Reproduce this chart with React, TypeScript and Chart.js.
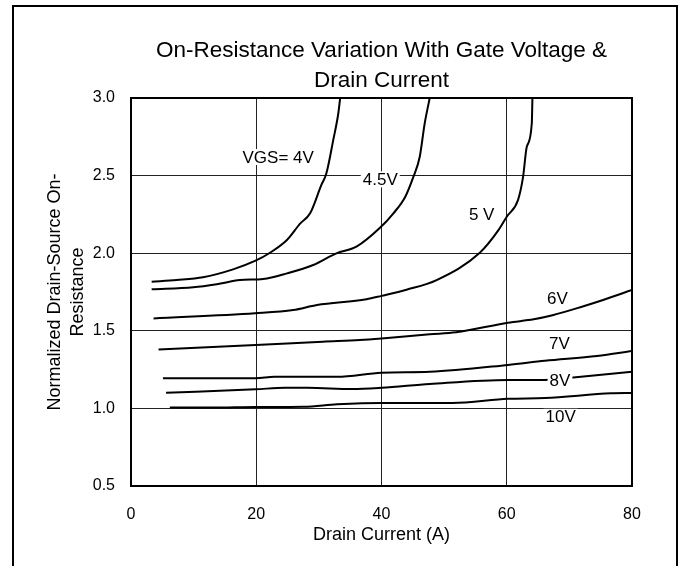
import React, { useEffect, useRef } from "react";
import { Chart, registerables } from "chart.js";

Chart.register(...registerables);

const FONT = "'Liberation Sans', Arial, Helvetica, sans-serif";

// Drain current (A) / normalized on-resistance, one pair of arrays per gate voltage
const vgs4X = [3.3, 7.3, 11.5, 16.3, 19.8, 22.2, 24.9, 27.0, 28.6, 30.4, 31.2, 32.3, 33.1, 33.4];
const vgs4Y = [1.816, 1.827, 1.845, 1.896, 1.95, 2.003, 2.085, 2.19, 2.257, 2.44, 2.515, 2.73, 2.9, 3.0];

const vgs45X = [3.3, 9.95, 13.7, 17.4, 21.1, 24.9, 29.1, 32.8, 36.0, 39.8, 41.9, 43.8, 45.1, 46.1, 46.9, 47.7];
const vgs45Y = [1.767, 1.78, 1.8, 1.827, 1.834, 1.87, 1.924, 1.999, 2.042, 2.165, 2.257, 2.364, 2.493, 2.62, 2.837, 3.0];

const vgs5X = [3.6, 19.8, 25.9, 29.7, 37.6, 40.0, 44.0, 48.8, 55.7, 58.7, 60.0, 61.8, 62.6, 63.2, 64.0, 64.1];
const vgs5Y = [1.58, 1.613, 1.634, 1.666, 1.703, 1.725, 1.765, 1.827, 2.003, 2.15, 2.235, 2.343, 2.49, 2.686, 2.837, 3.0];

const vgs6X = [4.4, 19.9, 30.6, 36.5, 40.0, 47.7, 51.9, 60.2, 64.3, 67.3, 72.0, 75.5, 80];
const vgs6Y = [1.38, 1.408, 1.43, 1.44, 1.45, 1.477, 1.49, 1.552, 1.574, 1.6, 1.655, 1.7, 1.763];

const vgs7X = [5.1, 19.9, 22.9, 32.9, 40.0, 47.7, 60.2, 66.1, 74.4, 80];
const vgs7Y = [1.194, 1.194, 1.204, 1.204, 1.23, 1.236, 1.28, 1.307, 1.338, 1.37];

const vgs8X = [5.6, 19.9, 24.6, 28.2, 35.3, 40.0, 47.7, 60.2, 66.1, 70.2, 80];
const vgs8Y = [1.101, 1.123, 1.133, 1.133, 1.125, 1.133, 1.157, 1.183, 1.183, 1.198, 1.236];

const vgs10X = [6.2, 12.8, 19.9, 27.6, 32.9, 40.0, 51.3, 60.2, 66.1, 76.7, 80];
const vgs10Y = [1.005, 1.005, 1.009, 1.011, 1.026, 1.035, 1.035, 1.062, 1.067, 1.097, 1.099];

const seriesNames = ["VGS=4V", "VGS=4.5V", "VGS=5V", "VGS=6V", "VGS=7V", "VGS=8V", "VGS=10V"];
const seriesX = [vgs4X, vgs45X, vgs5X, vgs6X, vgs7X, vgs8X, vgs10X];
const seriesY = [vgs4Y, vgs45Y, vgs5Y, vgs6Y, vgs7Y, vgs8Y, vgs10Y];

// Curve annotations (text, and their data position)
const labelTexts = ["VGS= 4V", "4.5V", "5 V", "6V", "7V", "8V", "10V"];
const labelX = [23.5, 39.8, 56.0, 68.1, 68.4, 68.5, 68.6];
const labelY = [2.62, 2.476, 2.253, 1.709, 1.418, 1.183, 0.946];

const titleLines = ["On-Resistance Variation With Gate Voltage &", "Drain Current"];
const xTitle = "Drain Current (A)";
const yTitleLines = ["Normalized Drain-Source On-", "Resistance"];
const xMin = 0, xMax = 80, xStep = 20;
const yMin = 0.5, yMax = 3.0, yStep = 0.5;

const framePlugin = {
  id: "plotFrame",
  afterDraw(chart: any) {
    const { ctx, chartArea } = chart;
    ctx.save();
    ctx.strokeStyle = "#000";
    ctx.lineWidth = 2;
    ctx.strokeRect(chartArea.left, chartArea.top, chartArea.right - chartArea.left, chartArea.bottom - chartArea.top);
    ctx.restore();
  },
};

const labelPlugin = {
  id: "curveLabels",
  afterDatasetsDraw(chart: any) {
    const { ctx, scales } = chart;
    ctx.save();
    ctx.font = `17px ${FONT}`;
    ctx.textAlign = "center";
    ctx.textBaseline = "middle";
    labelTexts.forEach((t, i) => {
      const px = scales.x.getPixelForValue(labelX[i]);
      const py = scales.y.getPixelForValue(labelY[i]);
      const w = ctx.measureText(t).width;
      ctx.fillStyle = "#fff";
      ctx.fillRect(px - w / 2 - 2, py - 8, w + 4, 16);
      ctx.fillStyle = "#000";
      ctx.fillText(t, px, py + 1);
    });
    ctx.restore();
  },
};

export default function App() {
  const ref = useRef<HTMLCanvasElement | null>(null);

  useEffect(() => {
    if (!ref.current) return;
    Chart.defaults.font.family = FONT;
    Chart.defaults.color = "#000";
    const datasets = seriesNames.map((name, i) => ({
      label: name,
      data: seriesX[i].map((x, j) => ({ x, y: seriesY[i][j] })),
      showLine: true,
      borderColor: "#000",
      backgroundColor: "#000",
      borderWidth: 2,
      pointRadius: 0,
      cubicInterpolationMode: "monotone" as const,
      fill: false,
    }));
    const chart = new Chart(ref.current, {
      type: "scatter",
      data: { datasets },
      options: {
        animation: false,
        responsive: false,
        devicePixelRatio: 1,
        layout: { padding: { left: 0, right: 56, top: 0, bottom: 0 } },
        plugins: {
          legend: { display: false },
          tooltip: { enabled: false },
          title: {
            display: true,
            text: titleLines,
            fullSize: false,
            color: "#000",
            font: { family: FONT, size: 22.5, weight: "normal", lineHeight: 30 / 22.5 },
            padding: { top: 36, bottom: 2 },
          },
        },
        scales: {
          x: {
            type: "linear",
            min: xMin,
            max: xMax,
            ticks: { stepSize: xStep, padding: 19, color: "#000", font: { size: 16 } },
            grid: { color: "#222", lineWidth: 1, drawTicks: false },
            border: { display: false },
            title: { display: true, text: xTitle, color: "#000", font: { size: 18 }, padding: { top: 0, bottom: 20 } },
            afterFit: (s: any) => { s.height = 80; },
          },
          y: {
            type: "linear",
            min: yMin,
            max: yMax,
            ticks: {
              stepSize: yStep,
              padding: 16,
              color: "#000",
              font: { size: 16 },
              callback: (v: any) => Number(v).toFixed(1),
            },
            grid: { color: "#222", lineWidth: 1, drawTicks: false },
            border: { display: false },
            title: {
              display: true,
              text: yTitleLines,
              color: "#000",
              font: { size: 18, lineHeight: 23 / 18 },
              padding: { top: 43.5, bottom: 0 },
            },
            afterFit: (s: any) => { s.width = 131; },
          },
        },
      },
      plugins: [framePlugin, labelPlugin],
    });
    return () => chart.destroy();
  }, []);

  return (
    <div style={{ position: "fixed", left: 0, top: 0, width: 688, height: 566, overflow: "hidden", background: "#fff" }}>
      <div
        style={{
          position: "absolute",
          left: 12,
          top: 5,
          width: 666,
          height: 700,
          boxSizing: "border-box",
          border: "2px solid #000",
        }}
      />
      <canvas ref={ref} width={688} height={566} style={{ position: "absolute", left: 0, top: 0 }} />
    </div>
  );
}
